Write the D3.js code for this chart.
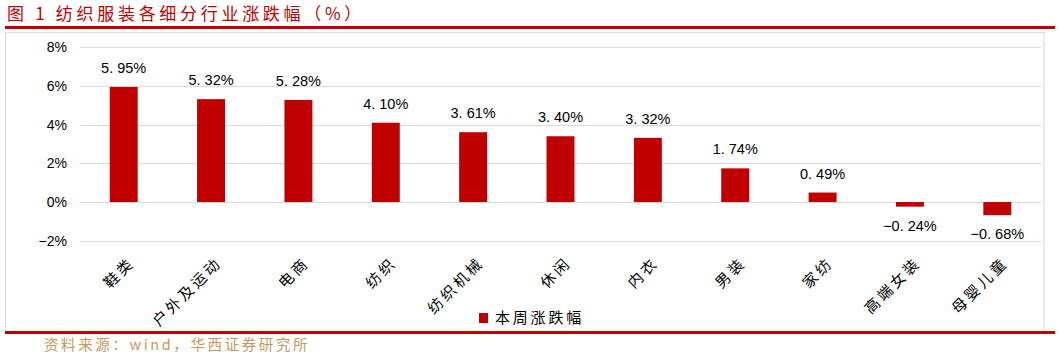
<!DOCTYPE html>
<html><head><meta charset="utf-8">
<script src="https://cdn.jsdelivr.net/npm/d3@7"></script>
<style>body{margin:0;background:#fff;} svg{display:block;}</style>
</head><body>
<svg id="c" width="1059" height="359"></svg>
<script>
const categories = ["鞋类","户外及运动","电商","纺织","纺织机械","休闲","内衣","男装","家纺","高端女装","母婴儿童"];
const values = [5.95,5.32,5.28,4.10,3.61,3.40,3.32,1.74,0.49,-0.24,-0.68];
const yTicks = [-2,0,2,4,6,8];
const seriesName = "本周涨跌幅";
const title = "图 1 纺织服装各细分行业涨跌幅（%）";
const source = "资料来源：wind，华西证券研究所";

const svg = d3.select("#c");
const cjk = "'Noto Sans CJK SC', 'Noto Sans', sans-serif";
const red = "#c00000";

// title
svg.append("text").attr("x",7).attr("y",20).attr("fill",red)
  .attr("font-family",cjk).attr("font-size",17).attr("letter-spacing",3.7).text(title);
svg.append("rect").attr("x",5).attr("y",26).attr("width",1050).attr("height",3).attr("fill",red);
// border
svg.append("rect").attr("x",5.5).attr("y",32.5).attr("width",1038.5).attr("height",300)
  .attr("fill","none").attr("stroke","#d9d9d9");
svg.append("rect").attr("x",5).attr("y",331).attr("width",1050).attr("height",3).attr("fill",red);
svg.append("text").attr("x",44).attr("y",350).attr("fill","#c49a5c")
  .attr("font-family",cjk).attr("font-size",14.5).attr("letter-spacing",2.6).text(source);

const x = d3.scaleBand().domain(categories).range([80,1041]).paddingInner(0.68).paddingOuter(0.34);
const y = d3.scaleLinear().domain([-2,8]).range([240.7,47.3]);

// grid
svg.append("g").selectAll("line").data(yTicks).join("line")
  .attr("x1",80).attr("x2",1041).attr("y1",d=>Math.round(y(d))+0.5).attr("y2",d=>Math.round(y(d))+0.5)
  .attr("stroke","#d9d9d9").attr("stroke-width",1);

const yAxis = d3.axisLeft(y).tickValues(yTicks).tickSize(0).tickPadding(0)
  .tickFormat(d => (d<0 ? "\u2212" + Math.abs(d) : d) + "%");
const ga = svg.append("g").attr("transform","translate(67,0)").call(yAxis);
ga.select(".domain").remove();
ga.selectAll("text").attr("font-family","'Liberation Sans', Arial, sans-serif").attr("font-size",14).attr("fill","#000");

// bars
svg.append("g").selectAll("rect").data(values).join("rect")
  .attr("x",(d,i)=>x(categories[i])).attr("width",x.bandwidth())
  .attr("y",d=>y(Math.max(0,d))).attr("height",d=>Math.abs(y(d)-y(0)))
  .attr("fill",red);

// value labels
const fmt = v => (v<0 ? "\u2212" : "") + Math.abs(v).toFixed(2).replace(".", ". ") + "%";
svg.append("g").selectAll("text").data(values).join("text")
  .attr("x",(d,i)=>x(categories[i])+x.bandwidth()/2)
  .attr("y",d=> d>=0 ? y(d)-14 : y(d)+14)
  .attr("dy", d=> d>=0 ? "0" : "0.7em")
  .attr("text-anchor","middle")
  .attr("font-family","'Liberation Sans', Arial, sans-serif").attr("font-size",14.5).attr("fill","#000")
  .text(fmt);

// x axis labels
const xAxis = d3.axisBottom(x).tickSize(0).tickPadding(0);
const gx = svg.append("g").attr("transform","translate(0,256)").call(xAxis);
gx.select(".domain").remove();
gx.selectAll("text").attr("font-family",cjk).attr("font-size",15).attr("fill","#000")
  .attr("letter-spacing",3)
  .attr("text-anchor","end").attr("dy","0.35em").attr("dx","0")
  .attr("transform","translate(8,4) rotate(-45)");

// legend
const lg = svg.append("g").attr("transform","translate(479,313)");
lg.append("rect").attr("width",9).attr("height",10).attr("fill",red);
lg.append("text").attr("x",16).attr("y",10).attr("font-family",cjk).attr("font-size",15).attr("letter-spacing",2.8).attr("fill","#000").text(seriesName);
</script>
</body></html>
